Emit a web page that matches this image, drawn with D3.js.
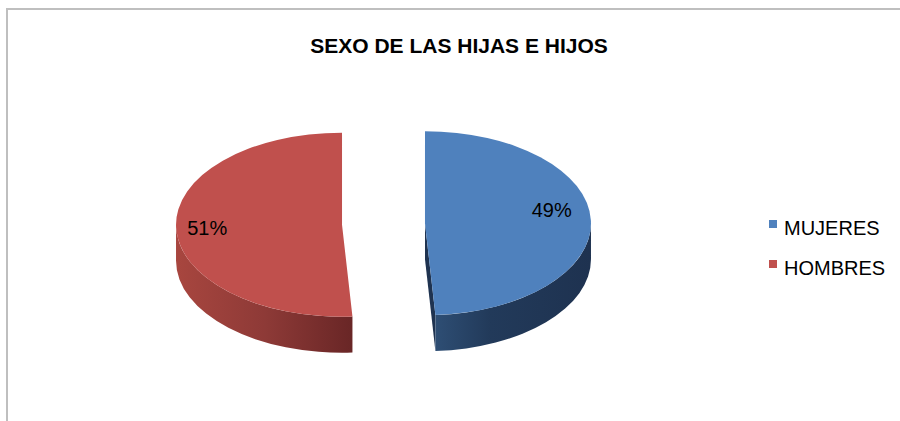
<!DOCTYPE html>
<html>
<head>
<meta charset="utf-8">
<script src="https://cdn.jsdelivr.net/npm/d3@7/dist/d3.min.js"></script>
<style>
  html, body { margin: 0; padding: 0; background: #ffffff; }
  svg { display: block; }
</style>
</head>
<body>
<div id="chart"></div>
<script>
// Chart data
const title = "SEXO DE LAS HIJAS E HIJOS";
const categories = ["MUJERES", "HOMBRES"];
const values = [49, 51];
const percentLabels = ["49%", "51%"];

// Appearance
const topColors = ["#4f81bd", "#c0504d"];
const sideStops = [
  [["0", "#2e4e74"], ["0.35", "#223a5a"], ["1", "#1e3250"]],
  [["0", "#a8463f"], ["0.5", "#8e3a37"], ["1", "#692626"]]
];
const cutColors = ["#1f3350", "#6b2828"];
const labelNudge = [[-1, -11], [-7, 1]];

const W = 900, H = 421;
const svg = d3.select("#chart").append("svg")
  .attr("width", W).attr("height", H)
  .style("font-family", "'Liberation Sans', Arial, sans-serif");

// Chart area frame (top and left edges visible)
svg.append("line").attr("x1", 6).attr("x2", W).attr("y1", 9).attr("y2", 9)
  .attr("stroke", "#bfbfbf").attr("stroke-width", 2);
svg.append("line").attr("x1", 7).attr("x2", 7).attr("y1", 8).attr("y2", H)
  .attr("stroke", "#bfbfbf").attr("stroke-width", 2);

svg.append("text")
  .attr("x", 459).attr("y", 53)
  .attr("text-anchor", "middle")
  .attr("font-size", 21).attr("font-weight", "bold")
  .attr("fill", "#000")
  .text(title);

// 3D pie geometry
const cx = 383.5, cy = 224, rx = 166, ry = 92, depth = 36, explode = 41.5;

const pie = d3.pie().sort(null).value(d => d)(values);

const defs = svg.append("defs");
sideStops.forEach((stops, i) => {
  const g = defs.append("linearGradient").attr("id", "side" + i)
    .attr("x1", "0").attr("x2", "1").attr("y1", "0").attr("y2", "0");
  stops.forEach(s => g.append("stop").attr("offset", s[0]).attr("stop-color", s[1]));
});

function pt(c, a, dy = 0) {
  return [c[0] + rx * Math.sin(a), c[1] - ry * Math.cos(a) + dy];
}

const g = svg.append("g");

pie.forEach((s, i) => {
  const mid = (s.startAngle + s.endAngle) / 2;
  const c = [cx + explode * Math.sin(mid), cy - explode * (ry / rx) * Math.cos(mid)];
  const a0 = s.startAngle, a1 = s.endAngle;

  // cut faces that turn toward the viewer
  [[a0, -1], [a1, 1]].forEach(([a, dir]) => {
    const nz = dir * -Math.sin(a);
    if (nz < -1e-6) {
      const p = pt(c, a), q = pt(c, a, depth);
      g.append("path")
        .attr("d", `M${c[0]},${c[1]}L${p[0]},${p[1]}L${q[0]},${q[1]}L${c[0]},${c[1] + depth}Z`)
        .attr("fill", cutColors[i]);
    }
  });

  // outer side wall, front half only
  const s0 = Math.max(a0, Math.PI / 2), s1 = Math.min(a1, 3 * Math.PI / 2);
  if (s1 > s0) {
    const p0 = pt(c, s0), p1 = pt(c, s1), q1 = pt(c, s1, depth), q0 = pt(c, s0, depth);
    const large = (s1 - s0) > Math.PI ? 1 : 0;
    g.append("path")
      .attr("d", `M${p0[0]},${p0[1]}A${rx},${ry} 0 ${large} 1 ${p1[0]},${p1[1]}` +
                 `L${q1[0]},${q1[1]}A${rx},${ry} 0 ${large} 0 ${q0[0]},${q0[1]}Z`)
      .attr("fill", `url(#side${i})`);
  }

  // top face
  const p0 = pt(c, a0), p1 = pt(c, a1);
  const large = (a1 - a0) > Math.PI ? 1 : 0;
  g.append("path")
    .attr("d", `M${c[0]},${c[1]}L${p0[0]},${p0[1]}A${rx},${ry} 0 ${large} 1 ${p1[0]},${p1[1]}Z`)
    .attr("fill", topColors[i]);

  // percentage label
  const lp = [c[0] + 0.77 * rx * Math.sin(mid), c[1] - 0.77 * ry * Math.cos(mid)];
  g.append("text")
    .attr("x", lp[0] + labelNudge[i][0]).attr("y", lp[1] + labelNudge[i][1] + 7)
    .attr("text-anchor", "middle")
    .attr("font-size", 20).attr("fill", "#000")
    .text(percentLabels[i]);
});

// Legend
const legend = svg.append("g");
categories.forEach((name, i) => {
  const y = 235 + i * 40;
  legend.append("rect").attr("x", 769).attr("y", y - 15).attr("width", 8).attr("height", 8)
    .attr("fill", topColors[i]);
  legend.append("text").attr("x", 784).attr("y", y)
    .attr("font-size", 20).attr("fill", "#000").text(name);
});
</script>
</body>
</html>
